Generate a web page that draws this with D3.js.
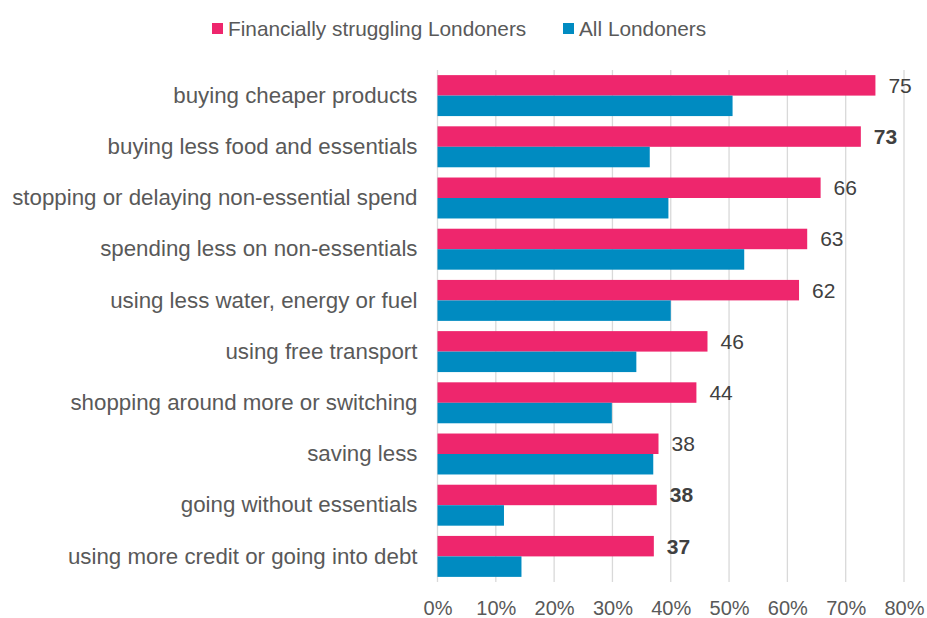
<!DOCTYPE html>
<html>
<head>
<meta charset="utf-8">
<script src="https://cdn.jsdelivr.net/npm/d3@7"></script>
<style>
body { margin: 0; background: #fff; }
text { font-family: "Liberation Sans", Arial, sans-serif; }
</style>
</head>
<body>
<div id="graph"></div>
<script>
var categories = [
    "buying cheaper products",
    "buying less food and essentials",
    "stopping or delaying non-essential spend",
    "spending less on non-essentials",
    "using less water, energy or fuel",
    "using free transport",
    "shopping around more or switching",
    "saving less",
    "going without essentials",
    "using more credit or going into debt"
];
var struggling = [75.1, 72.6, 65.7, 63.4, 62.0, 46.3, 44.4, 37.9, 37.6, 37.1];
var allLondoners = [50.6, 36.4, 39.6, 52.6, 40.0, 34.1, 29.9, 37.0, 11.4, 14.4];
var boldLabel = [false, true, false, false, false, false, false, false, true, true];
var seriesNames = ["Financially struggling Londoners", "All Londoners"];
var xTicks = [0, 10, 20, 30, 40, 50, 60, 70, 80];

var width = 927;
var height = 618;
var pink = "#ee266d";
var blue = "#008bc1";

var svg = d3.select('#graph')
    .append('svg')
    .attr('width', width)
    .attr('height', height);

var scaleX = d3.scaleLinear()
    .domain([0, 80])
    .range([437.5, 904]);

var scaleY = d3.scaleBand()
    .domain(categories)
    .range([70, 582])
    .paddingInner(0.2)
    .paddingOuter(0.1);

// gridlines
svg.append("g")
    .selectAll("line")
    .data(xTicks)
    .enter()
    .append("line")
    .attr("x1", function(d) { return scaleX(d) })
    .attr("x2", function(d) { return scaleX(d) })
    .attr("y1", 70)
    .attr("y2", 582)
    .attr("stroke", "#d9d9d9")
    .attr("stroke-width", 1.3);

var bh = scaleY.bandwidth() / 2;

var rows = categories.map(function(c, i) {
    return {cat: c, s: struggling[i], a: allLondoners[i], bold: boldLabel[i]};
});

svg.append("g")
    .selectAll("rect")
    .data(rows)
    .enter()
    .append("rect")
    .attr("x", scaleX(0))
    .attr("y", function(d) { return scaleY(d.cat) })
    .attr("width", function(d) { return scaleX(d.s) - scaleX(0) })
    .attr("height", bh)
    .attr("fill", pink);

svg.append("g")
    .selectAll("rect")
    .data(rows)
    .enter()
    .append("rect")
    .attr("x", scaleX(0))
    .attr("y", function(d) { return scaleY(d.cat) + bh })
    .attr("width", function(d) { return scaleX(d.a) - scaleX(0) })
    .attr("height", bh)
    .attr("fill", blue);

// value labels
svg.append("g")
    .selectAll("text")
    .data(rows)
    .enter()
    .append("text")
    .attr("x", function(d) { return scaleX(d.s) + 13 })
    .attr("y", function(d) { return scaleY(d.cat) + bh / 2 })
    .attr("dy", "0.35em")
    .attr("font-size", 21)
    .attr("font-weight", function(d) { return d.bold ? "bold" : "normal" })
    .attr("fill", "#404040")
    .text(function(d) { return Math.round(d.s) });

// category axis
var yAxis = d3.axisLeft(scaleY).tickSize(0).tickPadding(20);
var gy = svg.append("g")
    .attr("transform", "translate(" + scaleX(0) + ",0)")
    .call(yAxis);
gy.select(".domain").remove();
gy.selectAll("text")
    .attr("font-size", 22.3)
    .attr("font-family", "Liberation Sans, Arial, sans-serif")
    .attr("fill", "#595959");

// value axis
var xAxis = d3.axisBottom(scaleX)
    .tickValues(xTicks)
    .tickSize(0)
    .tickPadding(19)
    .tickFormat(function(d) { return d + "%" });
var gx = svg.append("g")
    .attr("transform", "translate(0,582)")
    .call(xAxis);
gx.select(".domain").remove();
gx.selectAll("text")
    .attr("font-size", 20)
    .attr("font-family", "Liberation Sans, Arial, sans-serif")
    .attr("fill", "#595959");

// legend
var legend = svg.append("g");
var legendX = [212, 563];
var legendColors = [pink, blue];
seriesNames.forEach(function(name, i) {
    legend.append("rect")
        .attr("x", legendX[i])
        .attr("y", 23)
        .attr("width", 11)
        .attr("height", 11)
        .attr("fill", legendColors[i]);
    legend.append("text")
        .attr("x", legendX[i] + 16)
        .attr("y", 29)
        .attr("dy", "0.35em")
        .attr("font-size", 20.8)
        .attr("fill", "#595959")
        .text(name);
});
</script>
</body>
</html>
